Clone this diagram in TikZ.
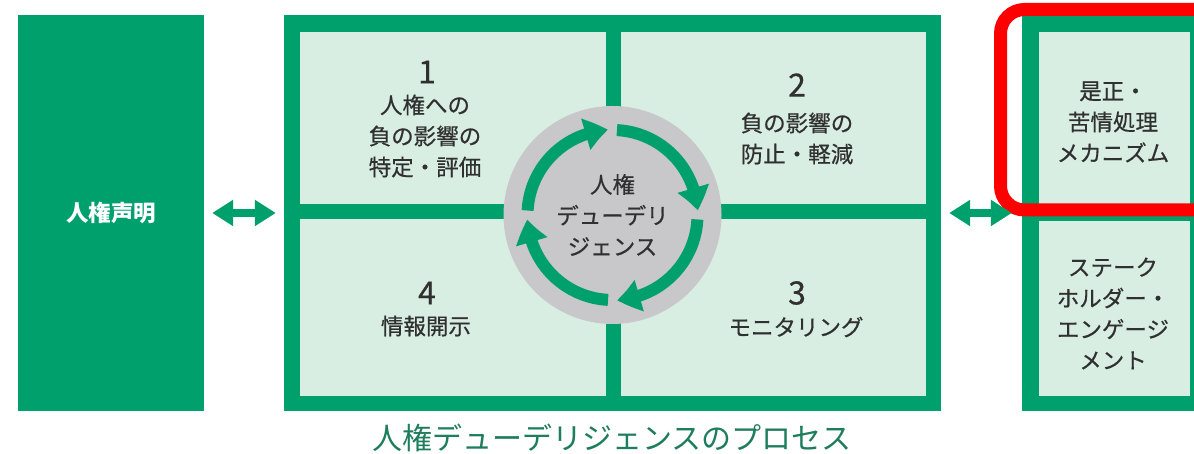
\documentclass[tikz,border=0pt]{standalone}
\usepackage{fontspec}
\newfontfamily\jp[FakeBold=0.5]{Noto Sans CJK JP}
\newfontfamily\jpb{Noto Sans CJK JP}
\usetikzlibrary{arrows.meta,bending,calc}
\definecolor{mygreen}{HTML}{00A06C}
\definecolor{lightg}{HTML}{D9EEE3}
\definecolor{circg}{HTML}{C8C8CA}
\definecolor{txt}{HTML}{303030}
\definecolor{capg}{HTML}{1D7D5C}
\definecolor{hlred}{HTML}{FF0000}
\tikzset{
  gblock/.style={fill=mygreen, draw=none, inner sep=0pt, rectangle},
  cell/.style={fill=lightg, draw=none, inner sep=0pt, rectangle},
  body/.style={text=txt, align=center, inner sep=0pt, font={\jp\fontsize{22.5}{31}\selectfont}},
  num/.style={text=txt, inner sep=0pt, font={\jp\fontsize{32}{34}\selectfont}},
  dbl/.style={draw=mygreen, line width=8pt,
    {Triangle[length=21pt,width=25pt]}-{Triangle[length=21pt,width=25pt]}},
  ring/.style={draw=mygreen, line width=12pt, -{Triangle[length=23pt,width=31pt,bend]}}
}
\begin{document}
\begin{tikzpicture}[x=1pt,y=1pt]
\useasboundingbox (0,0) rectangle (1194,454);
\clip (0,0) rectangle (1194,454);
\fill[white] (0,0) rectangle (1194,454);

% left block
\node[gblock, minimum width=186pt, minimum height=396pt, text=white,
      font={\jpb\bfseries\fontsize{22.5}{31}\selectfont}] (stmt) at (111,241) {人権声明};

% middle frame
\node[gblock, minimum width=657pt, minimum height=396pt] (frame) at (612.5,241) {};
\node[cell, minimum width=306pt, minimum height=172pt] (c1) at (453,336) {};
\node[cell, minimum width=305pt, minimum height=172pt] (c2) at (773.5,336) {};
\node[cell, minimum width=306pt, minimum height=177pt] (c4) at (453,146.5) {};
\node[cell, minimum width=305pt, minimum height=177pt] (c3) at (773.5,146.5) {};

% right frame
\node[gblock, minimum width=185pt, minimum height=396pt] (rframe) at (1114.5,241) {};
\node[cell, minimum width=151pt, minimum height=173pt] (r1) at (1114.5,335.5) {};
\node[cell, minimum width=151pt, minimum height=175pt] (r2) at (1114.5,145.5) {};

% highlight
\draw[hlred, line width=13pt, rounded corners=24pt] (1000.5,244) rectangle (1240,444.5);

% double arrows
\draw[dbl, shorten <=8pt, shorten >=8pt] (stmt.east) -- (frame.west);
\draw[dbl, shorten <=8pt, shorten >=10pt] (frame.east) -- (rframe.west);

% centre circle
\node[circle, fill=circg, minimum size=218pt, inner sep=0pt, body] (dd) at (612.5,239)
  {人権\\デューデリ\\ジェンス};
\foreach \q in {180,90,0,-90} {
  \draw[ring] ($(dd.center)+(\q-3:85)$) arc[start angle=\q-3, end angle=\q-87, radius=85];
}

% cell texts
\node[num] (n1) at (427,382) {1};
\node[body] (t1) at (425,318) {人権への\\負の影響の\\特定・評価};
\node[num] (n2) at (797,369) {2};
\node[body] (t2) at (797,315.5) {負の影響の\\防止・軽減};
\node[num] (n4) at (427,161) {4};
\node[body] (t4) at (426,128) {情報開示};
\node[num] (n3) at (797,161) {3};
\node[body] (t3) at (796,127) {モニタリング};

\node[body] (rt1) at (1113,332) {是正・\\苦情処理\\メカニズム};
\node[body] (rt2) at (1113,140.5) {ステーク\\ホルダー・\\エンゲージ\\メント};

% caption
\node[text=capg, inner sep=0pt, font={\jpb\fontsize{30}{32}\selectfont}] (cap) at (612,16)
  {人権デューデリジェンスのプロセス};
\end{tikzpicture}
\end{document}
